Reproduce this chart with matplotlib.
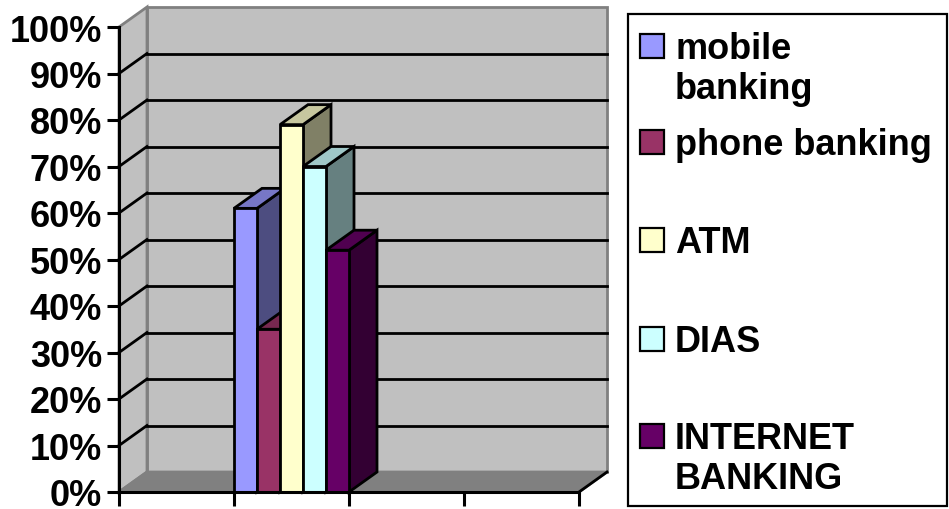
import matplotlib
matplotlib.use('Agg')
import matplotlib.pyplot as plt
import numpy as np
from matplotlib.patches import Polygon, Rectangle
from matplotlib.ticker import PercentFormatter
from matplotlib.colors import to_rgb

plt.rcParams['font.family'] = ['Liberation Sans', 'DejaVu Sans']
plt.rcParams['font.weight'] = 'bold'

# channel shares (fraction of respondents)
channels = ['mobile\nbanking', 'phone banking', 'ATM', 'DIAS', 'INTERNET\nBANKING']
shares = [0.61, 0.35, 0.79, 0.70, 0.52]
colors = ['#9999FF', '#993366', '#FFFFCC', '#CCFFFF', '#660066']

n_slots = 4          # category slots along the floor
bar_slot = 1         # slot that holds the bars
DX, DY = 0.2435, 0.043   # depth offset of the 3d box (data units)

W, H = 949, 510
fig = plt.figure(figsize=(W / 100, H / 100), dpi=100)
ax = fig.add_axes([119 / W, 17 / H, 460 / W, 465 / H])
ax.set_xlim(0, n_slots)
ax.set_ylim(0, 1)
ax.patch.set_visible(False)

wall = '#C0C0C0'
edge = '#808080'
LW = 2.0

# back wall, side wall, floor
ax.add_patch(Polygon([(DX, DY), (n_slots + DX, DY), (n_slots + DX, 1 + DY), (DX, 1 + DY)],
                     closed=True, fc=wall, ec=edge, lw=LW, clip_on=False, zorder=0))
ax.add_patch(Polygon([(0, 0), (DX, DY), (DX, 1 + DY), (0, 1)],
                     closed=True, fc=wall, ec=edge, lw=LW, clip_on=False, zorder=0))
ax.add_patch(Polygon([(0, 0), (n_slots, 0), (n_slots + DX, DY), (DX, DY)],
                     closed=True, fc='#808080', ec=edge, lw=LW, clip_on=False, zorder=0))
ax.plot([n_slots, n_slots + DX], [0, DY], color='black', lw=LW, clip_on=False, zorder=1)

# gridlines on walls
for v in np.arange(0.1, 1.0, 0.1):
    ax.plot([DX, n_slots + DX], [v + DY, v + DY], color='black', lw=LW, clip_on=False, zorder=1)
    ax.plot([0, DX], [v, v + DY], color='black', lw=LW, clip_on=False, zorder=1)


def shade(c, f):
    r, g, b = to_rgb(c)
    return (r * f, g * f, b * f)


# 3d bars, drawn left to right so each front hides the previous side face
bw = 1.0 / len(shares)
for i, (v, c) in enumerate(zip(shares, colors)):
    x0 = bar_slot + i * bw
    x1 = x0 + bw
    z = 2 + i
    ax.add_patch(Polygon([(x1, 0), (x1 + DX, DY), (x1 + DX, v + DY), (x1, v)],
                         closed=True, fc=shade(c, 0.5), ec='black', lw=LW,
                         joinstyle='miter', clip_on=False, zorder=z))
    ax.add_patch(Polygon([(x0, v), (x1, v), (x1 + DX, v + DY), (x0 + DX, v + DY)],
                         closed=True, fc=shade(c, 0.78), ec='black', lw=LW,
                         joinstyle='miter', clip_on=False, zorder=z))
    ax.add_patch(Rectangle((x0, 0), bw, v, fc=c, ec='black', lw=LW,
                           joinstyle='miter', clip_on=False, zorder=z))

# axes
for s in ['top', 'right']:
    ax.spines[s].set_visible(False)
for s in ['left', 'bottom']:
    ax.spines[s].set_linewidth(2.2)
    ax.spines[s].set_zorder(20)
ax.set_yticks(np.arange(0, 1.01, 0.1))
ax.yaxis.set_major_formatter(PercentFormatter(1.0, decimals=0))
ax.set_xticks(range(n_slots + 1))
ax.set_xticklabels([])
ax.tick_params(axis='y', direction='out', length=9, width=2.2, labelsize=26, pad=3)
ax.tick_params(axis='x', direction='out', length=10, width=2.2)
for lab in ax.get_yticklabels():
    lab.set_fontweight('bold')

# legend
fig.patches.append(Rectangle((628 / W, 3 / H), 319 / W, 492 / H, transform=fig.transFigure,
                             fill=False, ec='black', lw=1.6))
legend_y = [47, 143, 241, 340, 437]   # pixel rows of the legend keys
for lbl, c, yp in zip(channels, colors, legend_y):
    fig.patches.append(Rectangle((640 / W, (H - yp - 12) / H), 24 / W, 24 / H,
                                 transform=fig.transFigure, fc=c, ec='black', lw=1.6))
    fig.text(675 / W, (H - yp + 15) / H, lbl, fontsize=26, fontweight='bold',
             ha='left', va='top', linespacing=1.18)

fig.savefig('out.png', dpi=100)
